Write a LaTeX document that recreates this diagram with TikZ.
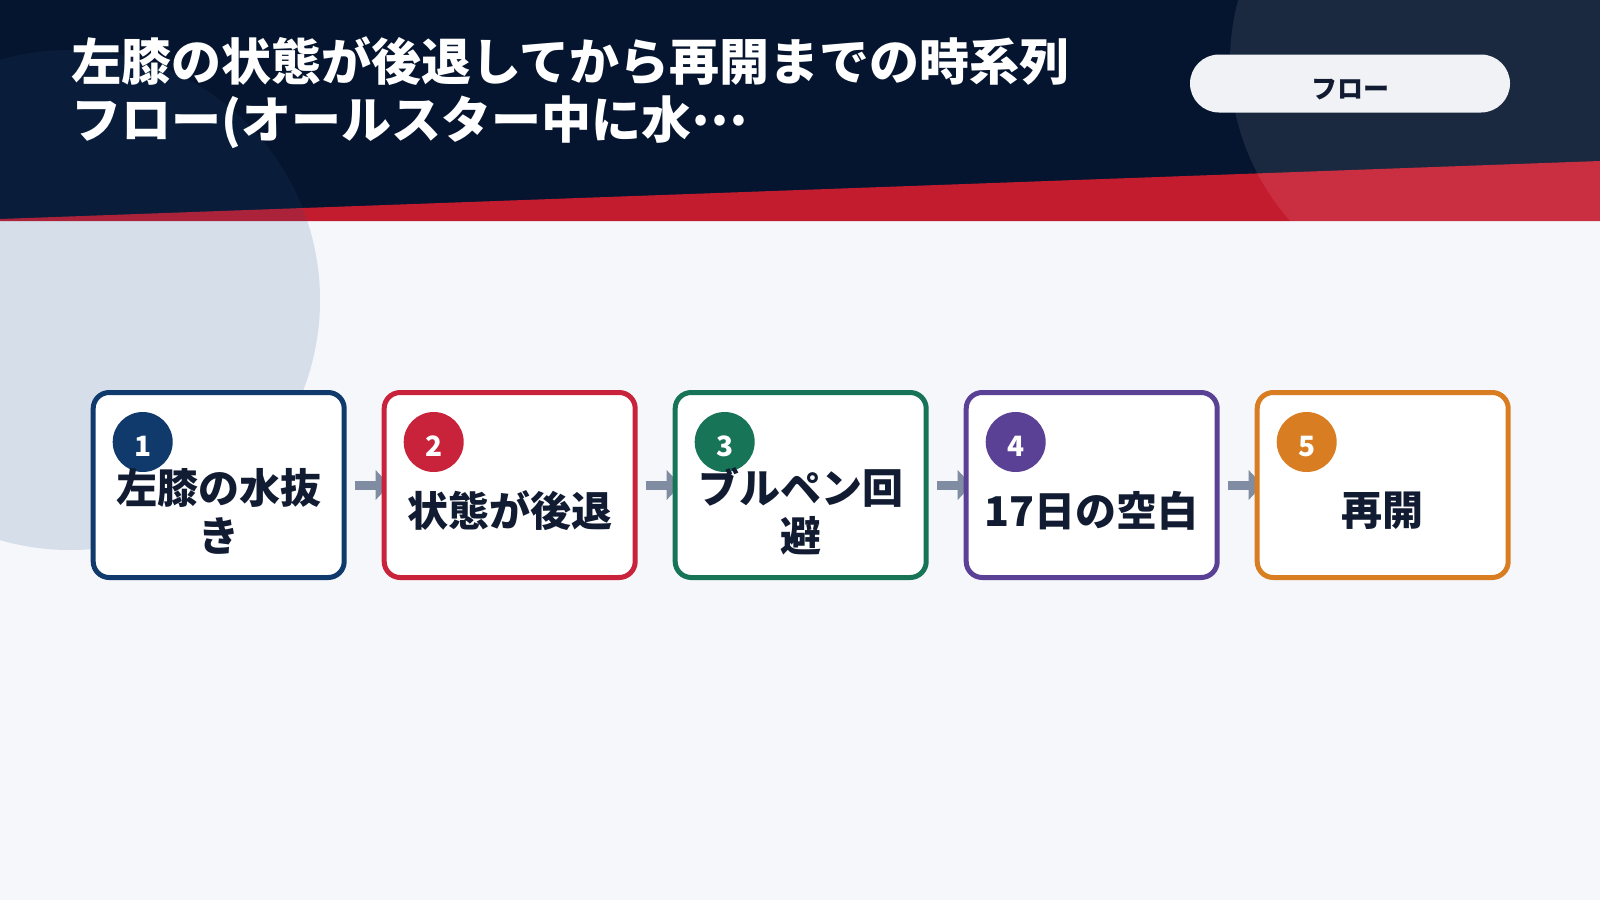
\documentclass[tikz,border=0pt]{standalone}
\usepackage{fontspec}
\setmainfont{Noto Sans CJK JP}
\usetikzlibrary{positioning,arrows.meta}
\definecolor{pagebg}{HTML}{F5F7FB}
\definecolor{navy}{HTML}{06152F}
\definecolor{band}{HTML}{C41C2F}
\definecolor{glow}{RGB}{32,81,133}
\definecolor{ink}{HTML}{111B31}
\definecolor{pillbg}{HTML}{F0F2F5}
\definecolor{arrowgray}{HTML}{7F8CA1}
\definecolor{c1}{HTML}{0F3A6B}
\definecolor{c2}{HTML}{C8233A}
\definecolor{c3}{HTML}{177457}
\definecolor{c4}{HTML}{5A4195}
\definecolor{c5}{HTML}{D87D22}
\pgfdeclarelayer{back}
\pgfdeclarelayer{mid}
\pgfsetlayers{back,mid,main}
\begin{document}
\begin{tikzpicture}[x=1pt, y=-1pt,
    stepbox/.style={draw=#1, fill=white, line width=5pt, rounded corners=16pt,
      minimum width=251pt, minimum height=185pt, inner sep=0pt},
    badge/.style={circle, fill=#1, text=white, minimum size=60pt, inner sep=0pt,
      text height=28pt, text depth=0pt, font=\fontsize{28}{28}\selectfont\bfseries},
    steptext/.style={align=center, text=ink, inner sep=0pt,
      font=\fontsize{41}{48}\selectfont\bfseries},
    pill/.style={fill=pillbg, rounded corners=29pt, minimum width=320pt,
      minimum height=58pt, text height=29pt, text depth=0pt, text=ink,
      font=\fontsize{26}{26}\selectfont\bfseries},
    flowarrow/.style={draw=arrowgray, line width=9pt,
      -{Triangle[width=29pt,length=14pt]}, shorten <=8pt, shorten >=-8pt},
    node distance=35pt]
  \useasboundingbox (0,0) rectangle (1600,900);
  \begin{pgfonlayer}{back}
    \fill[pagebg] (0,0) rectangle (1600,900);
    \fill[navy] (0,0) rectangle (1600,221);
    \fill[band] (0,219) -- (1600,161) -- (1600,221) -- (0,221) -- cycle;
    \fill[glow, opacity=.15] (70,300) circle[radius=250pt];
    \fill[white, opacity=.085] (1470,62) circle[radius=240pt];
    \node[pill] (tag) at (1350,83.5) {フロー};
    \node[anchor=north west, inner sep=0pt, align=left, text=white,
      font=\fontsize{50}{58}\selectfont\bfseries] (title) at (71,36)
      {左膝の状態が後退してから再開までの時系列\\フロー(オールスター中に水\raisebox{13pt}{…}};
  \end{pgfonlayer}

  \node[stepbox=c1] (b1) at (218.7,485) {};
  \node[stepbox=c2, right=of b1] (b2) {};
  \node[stepbox=c3, right=of b2] (b3) {};
  \node[stepbox=c4, right=of b3] (b4) {};
  \node[stepbox=c5, right=of b4] (b5) {};

  \node[badge=c1] (n1) at ([shift={(52,52)}]b1.north west) {1};
  \node[badge=c2] (n2) at ([shift={(52,52)}]b2.north west) {2};
  \node[badge=c3] (n3) at ([shift={(52,52)}]b3.north west) {3};
  \node[badge=c4] (n4) at ([shift={(52,52)}]b4.north west) {4};
  \node[badge=c5] (n5) at ([shift={(52,52)}]b5.north west) {5};

  \node[steptext] (t1) at ([yshift=-26pt]b1.center) {左膝の水抜\\き};
  \node[steptext] (t2) at ([yshift=-26pt]b2.center) {状態が後退};
  \node[steptext] (t3) at ([yshift=-26pt]b3.center) {ブルペン回\\避};
  \node[steptext] (t4) at ([yshift=-26pt]b4.center) {17日の空白};
  \node[steptext] (t5) at ([yshift=-26pt]b5.center) {再開};

  \begin{pgfonlayer}{mid}
    \draw[flowarrow] (b1) -- (b2);
    \draw[flowarrow] (b2) -- (b3);
    \draw[flowarrow] (b3) -- (b4);
    \draw[flowarrow] (b4) -- (b5);
  \end{pgfonlayer}
\end{tikzpicture}
\end{document}
